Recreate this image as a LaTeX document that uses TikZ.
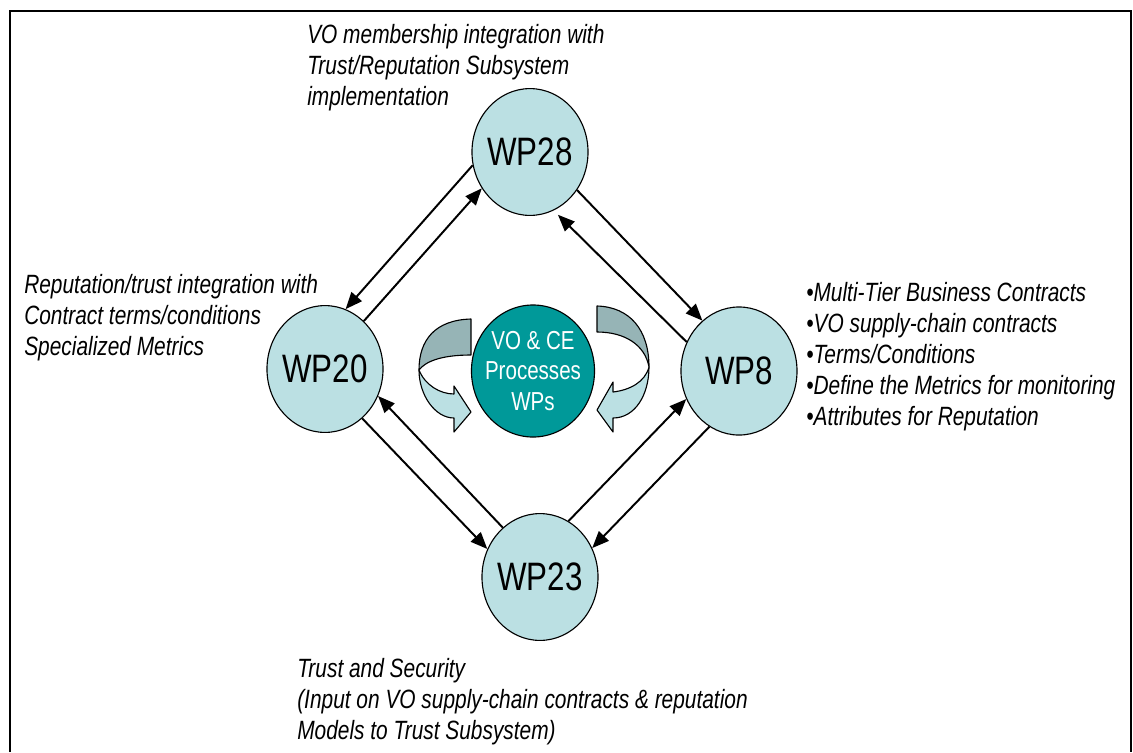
\documentclass[tikz,border=0pt]{standalone}
\usepackage{fontspec}
\setmainfont{Liberation Sans}[FakeStretch=0.79]
\usetikzlibrary{shapes.geometric,arrows.meta}
\definecolor{wpfill}{RGB}{187,224,227}
\definecolor{wpcore}{RGB}{0,153,153}
\definecolor{ribbon}{RGB}{150,180,182}

\begin{document}
\begin{tikzpicture}[x=0.025cm, y=-0.025cm,
    wp/.style={ellipse, draw, line width=0.8pt, fill=wpfill, inner sep=-0.4cm,
      minimum width=2.9cm, minimum height=3.17cm,
      font=\fontsize{28.2}{32}\selectfont},
    link/.style={line width=1.4pt, -{Triangle[length=0.42cm, width=0.34cm]}},
    twist/.style={draw=black, line width=0.8pt, line join=round},
    note/.style={anchor=west, inner sep=0pt, align=left,
      font=\fontsize{18.8}{22}\selectfont\itshape}]
  \useasboundingbox (0,0) rectangle (1133,752);
  % frame, open at the bottom
  \draw[line width=1.5pt] (10,752) -- (10,11) -- (1131,11) -- (1131,752);

  % the work packages
  \node[wp] (wp28) at (530,152) {WP28};
  \node[wp] (wp20) at (325,369) {WP20};
  \node[wp, minimum height=3.2cm] (wp8) at (739,371) {WP8};
  \node[wp] (wp23) at (540,577) {WP23};
  \node[wp, fill=wpcore, text=white, minimum width=3.075cm, minimum height=3.3cm,
    align=center, font=\fontsize{18.5}{21.7}\selectfont] (core) at (533,371)
    {VO \& CE\\Processes\\WPs};

  % turning arrows round the core
  \path[fill=ribbon, twist] (471,319) .. controls (435,320) and (419,340) .. (419,370)
    .. controls (425,362) and (440,355) .. (471,355) -- cycle;
  \path[fill=wpfill, twist] (419,370) .. controls (419,395) and (435,418) .. (454,418)
    -- (454,432) -- (471,412) -- (454,386) -- (454,394)
    .. controls (440,394) and (425,385) .. (419,370) -- cycle;
  \path[fill=ribbon, twist] (597,306) .. controls (630,307) and (649,330) .. (649,367)
    .. controls (645,345) and (625,332) .. (597,332) -- cycle;
  \path[fill=wpfill, twist] (649,367) .. controls (649,395) and (635,418) .. (613,418)
    -- (613,432) -- (597,410) -- (613,382) -- (613,392)
    .. controls (630,390) and (645,382) .. (649,367) -- cycle;

  % links in both directions
  \draw[link] (wp28.193) -- (wp20.71);
  \draw[link] (wp20.51) -- (wp28.217);
  \draw[link] (wp28.321) -- (wp8.126);
  \draw[link, shorten >=0.15cm] (wp8.151) -- (wp28.292);
  \draw[link] (wp20.307) -- (wp23.152);
  \draw[link] (wp23.127) -- (wp20.333);
  \draw[link] (wp23.63) -- (wp8.208);
  \draw[link] (wp8.242) -- (wp23.29);

  % notes
  \node[note] (n28) at (307,68) {VO membership integration with\\
    Trust/Reputation Subsystem\\implementation};
  \node[note] (n20) at (24,318) {Reputation/trust integration with\\
    Contract terms/conditions\\Specialized Metrics};
  \node[note] (n8) at (806,357) {•Multi-Tier Business Contracts\\
    •VO supply-chain contracts\\•Terms/Conditions\\
    •Define the Metrics for monitoring\\•Attributes for Reputation};
  \node[note] (n23) at (297,702) {Trust and Security\\
    (Input on VO supply-chain contracts \& reputation\\
    Models to Trust Subsystem)};
\end{tikzpicture}
\end{document}
